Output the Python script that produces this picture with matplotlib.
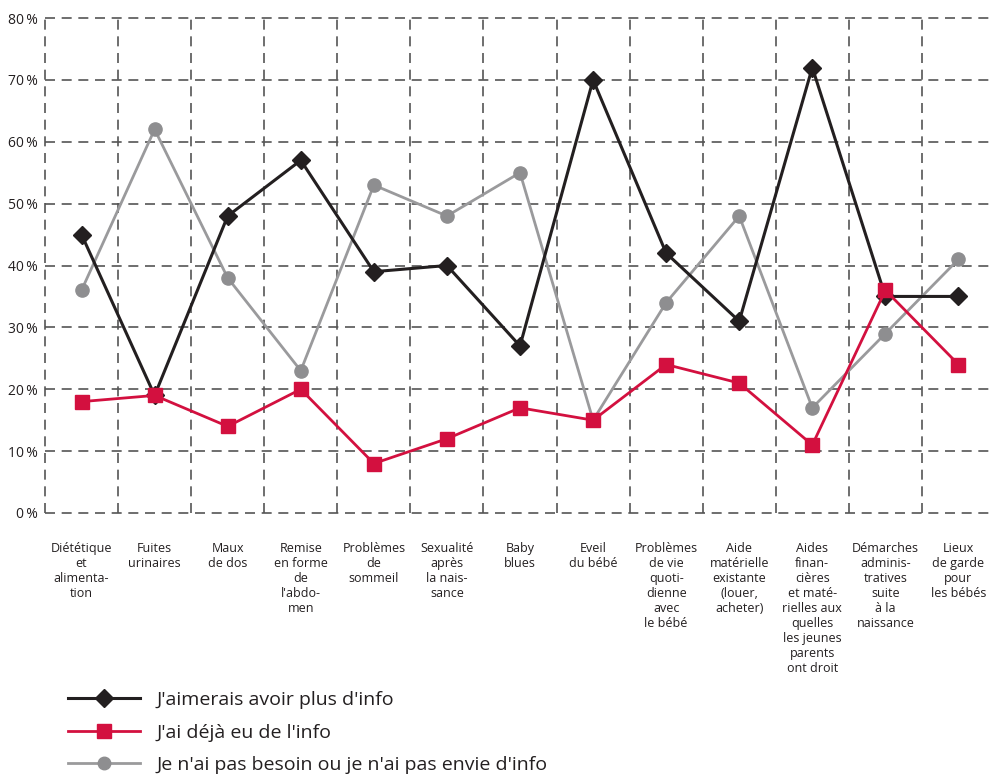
import matplotlib
matplotlib.use("Agg")
import matplotlib.pyplot as plt
from matplotlib.lines import Line2D

categories = [
    "Diététique\net\nalimenta-\ntion",
    "Fuites\nurinaires",
    "Maux\nde dos",
    "Remise\nen forme\nde\nl'abdo-\nmen",
    "Problèmes\nde\nsommeil",
    "Sexualité\naprès\nla nais-\nsance",
    "Baby\nblues",
    "Eveil\ndu bébé",
    "Problèmes\nde vie\nquoti-\ndienne\navec\nle bébé",
    "Aide\nmatérielle\nexistante\n(louer,\nacheter)",
    "Aides\nfinan-\ncières\net maté-\nrielles aux\nquelles\nles jeunes\nparents\nont droit",
    "Démarches\nadminis-\ntratives\nsuite\nà la\nnaissance",
    "Lieux\nde garde\npour\nles bébés",
]
plus_info = [45, 19, 48, 57, 39, 40, 27, 70, 42, 31, 72, 35, 35]
deja_info = [18, 19, 14, 20, 8, 12, 17, 15, 24, 21, 11, 36, 24]
pas_besoin = [36, 62, 38, 23, 53, 48, 55, 15, 34, 48, 17, 29, 41]
series_labels = ["J'aimerais avoir plus d'info", "J'ai déjà eu de l'info",
                 "Je n'ai pas besoin ou je n'ai pas envie d'info"]
yticks = [0, 10, 20, 30, 40, 50, 60, 70, 80]
ytick_labels = [f"{v}\u2009%" for v in yticks]

plt.rcParams['font.family'] = ['Open Sans', 'DejaVu Sans']

fig = plt.figure(figsize=(9.95, 7.74), dpi=100)
ax = fig.add_axes([45 / 995, 1 - 513 / 774, 1 - 45 / 995, (513 - 18) / 774])

x = list(range(len(categories)))
grid_kw = dict(color="#555555", lw=1.2, ls=(0, (6, 4)), zorder=0, clip_on=False)
for v in yticks:
    ax.axhline(v, **grid_kw)
for i in range(len(categories)):
    ax.axvline(i - 0.5, **grid_kw)

ax.plot(x, pas_besoin, color="#9a9a9c", lw=2.0, marker="o", ms=9.5,
        mfc="#8e8e90", mec="#8e8e90", zorder=3, label=series_labels[2], clip_on=False)
ax.plot(x, plus_info, color="#231f20", lw=2.2, marker="D", ms=9.5,
        mfc="#231f20", mec="#231f20", zorder=4, label=series_labels[0], clip_on=False)
ax.plot(x, deja_info, color="#d3103f", lw=2.0, marker="s", ms=10.5,
        mfc="#d3103f", mec="#d3103f", zorder=5, label=series_labels[1], clip_on=False)

ax.set_xlim(-0.5, len(categories) - 0.5)
ax.set_ylim(0, 80)
for s in ax.spines.values():
    s.set_visible(False)
ax.set_yticks(yticks)
ax.set_yticklabels(ytick_labels, fontsize=10, color="#231f20")
ax.set_xticks(x)
ax.set_xticklabels(categories, fontsize=9, color="#231f20", linespacing=1.2)
ax.tick_params(axis="both", length=0)
ax.tick_params(axis="y", pad=5)
ax.tick_params(axis="x", pad=21)

handles = [
    Line2D([], [], color="#231f20", lw=2.2, marker="D", ms=9),
    Line2D([], [], color="#d3103f", lw=2.0, marker="s", ms=10),
    Line2D([], [], color="#9a9a9c", lw=2.0, marker="o", ms=9, mfc="#8e8e90", mec="#8e8e90"),
]
fig.legend(handles, series_labels, loc="upper left", bbox_to_anchor=(68 / 995, 1 - 691 / 774),
           frameon=False, fontsize=14, handlelength=3.7, handletextpad=0.85,
           labelspacing=0.75, borderpad=0, borderaxespad=0, labelcolor="#231f20")

fig.savefig("out.png", dpi=100)
